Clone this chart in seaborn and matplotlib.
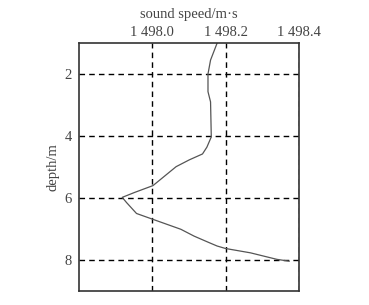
import matplotlib
matplotlib.use("Agg")
import matplotlib.pyplot as plt
import seaborn as sns
import pandas as pd

depth = [1.0, 1.55, 2.0, 2.57, 2.9, 4.03, 4.36, 4.58, 4.77, 4.99, 5.6, 5.82, 5.98,
         6.15, 6.5, 6.69, 7.01, 7.23, 7.44, 7.55, 7.63, 7.77, 7.98, 8.04]
speed = [1498.177, 1498.159, 1498.152, 1498.152, 1498.159, 1498.161, 1498.149, 1498.137,
         1498.101, 1498.065, 1498.002, 1497.952, 1497.918, 1497.930, 1497.957, 1498.002,
         1498.078, 1498.114, 1498.155, 1498.177, 1498.200, 1498.268, 1498.340, 1498.374]
x_ticks = [1498.0, 1498.2, 1498.4]
x_tick_labels = ["1 498.0", "1 498.2", "1 498.4"]
y_ticks = [2, 4, 6, 8]

sns.set_theme(style="white")
plt.rcParams["font.family"] = ["Liberation Serif", "DejaVu Serif"]

df = pd.DataFrame({"depth": depth, "speed": speed})

fig = plt.figure(figsize=(3.69, 3.05), dpi=100)
ax = fig.add_axes([0.214, 0.046, 0.596, 0.813])
sns.lineplot(data=df, x="speed", y="depth", orient="y", sort=False,
             color="#555555", linewidth=0.9, ax=ax)

ax.set_xlim(1497.8, 1498.4)
ax.set_ylim(9, 1)
ax.set_xticks(x_ticks)
ax.set_xticklabels(x_tick_labels)
ax.set_yticks(y_ticks)
ax.xaxis.tick_top()
ax.xaxis.set_label_position("top")
ax.tick_params(axis="both", length=0, labelsize=10.5, colors="#444444")
ax.tick_params(axis="x", pad=3)
ax.tick_params(axis="y", pad=5)
ax.set_xlabel("sound speed/m·s", fontsize=10.5, color="#444444", labelpad=6)
ax.set_ylabel("depth/m", fontsize=10.5, color="#444444", labelpad=4)

ax.grid(True, color="black", linestyle=(0, (4, 3)), linewidth=1.0)
for s in ax.spines.values():
    s.set_color("#333333")
    s.set_linewidth(1.2)
    s.set_visible(True)

fig.savefig("out.png", dpi=100)
